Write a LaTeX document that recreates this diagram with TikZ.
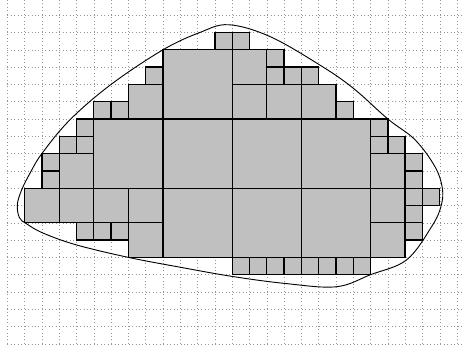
\documentclass[tikz,border=0pt]{standalone}
\usepackage{xcolor}
\definecolor{cellgray}{RGB}{192,192,192}
\definecolor{dotgray}{RGB}{150,150,150}
\usepackage{tikz}
\usetikzlibrary{calc}

\tikzset{
  gridline/.style={dotgray, line width=0.7pt, dash pattern=on 1.6pt off 4.1pt},
  cell/.style={draw=black, fill=cellgray, line width=2.2pt},
  region/.style={black, line width=1.5pt}
}

\begin{document}
\begin{tikzpicture}
\useasboundingbox (-0.422,-0.462) rectangle (26.46,19.88);
\draw[gridline] (0,0) grid (26.46,19.88);
% 4x4 cells
\foreach \x/\y in {9/13, 5/9, 9/9, 13/9, 17/9, 9/5, 13/5, 17/5}
  \draw[cell] (\x,\y) rectangle ++(4,4);
% 2x2 cells
\foreach \x/\y in {7/13, 13/15, 13/13, 15/13, 17/13, 3/9, 21/9,
                   1/7, 3/7, 5/7, 7/7, 21/7, 7/5, 21/5}
  \draw[cell] (\x,\y) rectangle ++(2,2);
% 1x1 cells
\foreach \x/\y in {12/17, 13/17, 8/15, 15/16, 15/15, 16/15, 17/15,
                   5/13, 6/13, 19/13, 4/12, 21/12, 3/11, 4/11, 21/11, 22/11,
                   2/10, 23/10, 2/9, 23/9, 23/8, 24/8, 23/7, 23/6,
                   4/6, 5/6, 6/6}
  \draw[cell] (\x,\y) rectangle ++(1,1);
\foreach \x in {13,...,20}
  \draw[cell] (\x,4) rectangle ++(1,1);
% boundary
\draw[region] plot[smooth cycle, tension=0.6] coordinates {
  (0.58,8.05) (0.83,8.9) (1.31,9.86) (2,11) (3.62,12.95) (6,15.0)
  (9,17) (11.13,18.0) (12.8,18.45) (15.2,17.76) (18.1,16.1) (20,14.78)
  (22,13) (23.57,11.8) (24.72,10.25) (25.15,9.0) (25.07,7.94) (24.53,6.78)
  (23.09,4.86) (21,4) (19,3.3) (16,3.5) (13,3.9) (10,4.43) (7,5)
  (4,5.72) (2.08,6.4) (1.1,6.95) (0.7,7.3)};
\end{tikzpicture}
\end{document}
